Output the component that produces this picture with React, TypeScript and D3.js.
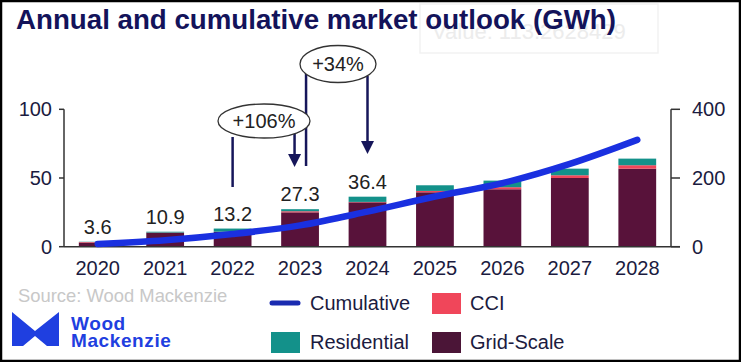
import React from 'react'
import * as d3 from 'd3'

const years = ['2020', '2021', '2022', '2023', '2024', '2025', '2026', '2027', '2028']
const gridScale = [3.0, 10.2, 10.7, 25.0, 32.3, 39.6, 41.8, 50.0, 56.8]
const cci = [0.4, 0.1, 0.2, 0.8, 0.3, 1.0, 1.5, 2.0, 2.5]
const residential = [0.2, 0.6, 2.3, 1.5, 3.8, 4.1, 4.8, 4.8, 4.8]
const cumulative = [8, 19, 37, 62, 102, 146, 185, 241, 311]
const totalLabels = ['3.6', '10.9', '13.2', '27.3', '36.4']
const leftTicks = [0, 50, 100]
const rightTicks = [0, 200, 400]

const W = 741
const H = 362
const FONT = '"Liberation Sans", Arial, sans-serif'
const NAVY = '#1b1b40'
const LINE_NAVY = '#16165a'

const App = () => {
  const x = d3.scaleBand<string>().domain(years).range([64, 671]).paddingInner(0.44).paddingOuter(0.22)
  const yL = d3.scaleLinear().domain([0, 100]).range([246.7, 109.3])
  const yR = d3.scaleLinear().domain([0, 400]).range([246.7, 109.3])

  const rows = years.map((year, i) => ({ year, grid: gridScale[i], cci: cci[i], res: residential[i] }))
  const stack = d3.stack<any>().keys(['grid', 'cci', 'res'])(rows)
  const colors: Record<string, string> = { grid: '#58123a', cci: '#f0465a', res: '#13918a' }

  const cx = (y: string) => (x(y) as number) + x.bandwidth() / 2

  const line = d3
    .line<number>()
    .x((_, i) => cx(years[i]))
    .y(d => yR(d))
    .curve(d3.curveMonotoneX)

  const totals = years.map((_, i) => gridScale[i] + cci[i] + residential[i])

  // annotation anchors
  const a2022 = cx('2022')
  const a2023 = cx('2023')
  const a2024 = cx('2024')

  const arrowHead = (ax: number, tip: number) =>
    `M${ax - 6.5},${tip - 13} L${ax + 6.5},${tip - 13} L${ax},${tip} Z`

  return (
    <svg width={W} height={H} style={{ position: 'absolute', left: 0, top: 0, background: '#fff' }} fontFamily={FONT}>
      <rect x={1} y={1} width={W - 2} height={H - 2} fill="#fff" stroke="#000" strokeWidth={2.5} />

      {/* faint tooltip artifact */}
      <rect x={420} y={4} width={238} height={49} fill="#fff" stroke="#f2f2f2" strokeWidth={1.5} />
      <text x={432} y={39} fontSize={22} fill="#ececec">Value: 113.2628429</text>

      <text x={16} y={28.5} fontSize={27.7} fontWeight="bold" fill="#13135a">
        Annual and cumulative market outlook (GWh)
      </text>

      {/* bars */}
      {stack.map(layer => (
        <g key={layer.key} fill={colors[layer.key]}>
          {layer.map((d, i) => (
            <rect key={i} x={x(years[i])} y={yL(d[1])} width={x.bandwidth()} height={yL(d[0]) - yL(d[1])} />
          ))}
        </g>
      ))}

      {/* axes */}
      <g stroke="#333" strokeWidth={1.5} fill="none">
        <line x1={64} x2={64} y1={yL(100)} y2={yL(0)} />
        <line x1={671} x2={671} y1={yR(400)} y2={yR(0)} />
        <line x1={64} x2={680} y1={yL(0)} y2={yL(0)} />
        {leftTicks.map(t => (
          <line key={t} x1={59} x2={64} y1={yL(t)} y2={yL(t)} />
        ))}
        {rightTicks.map(t => (
          <line key={t} x1={671} x2={680} y1={yR(t)} y2={yR(t)} />
        ))}
      </g>
      {leftTicks.map(t => (
        <text key={t} x={52} y={yL(t) + 7} fontSize={20} textAnchor="end" fill={NAVY}>{t}</text>
      ))}
      {rightTicks.map(t => (
        <text key={t} x={692} y={yR(t) + 7} fontSize={20} fill={NAVY}>{t}</text>
      ))}
      {years.map(y => (
        <text key={y} x={cx(y)} y={275} fontSize={20} textAnchor="middle" fill={NAVY}>{y}</text>
      ))}

      {/* total labels */}
      {totalLabels.map((l, i) => (
        <text key={l} x={cx(years[i])} y={yL(totals[i]) - 8} fontSize={20} textAnchor="middle" fill="#222">{l}</text>
      ))}

      {/* cumulative line */}
      <path d={line(cumulative) || ''} fill="none" stroke="#1a30e0" strokeWidth={6.5} strokeLinecap="round" />

      {/* annotations */}
      <g stroke={LINE_NAVY} strokeWidth={2.5} fill="none">
        <line x1={a2022} x2={a2022} y1={137} y2={187} />
        <line x1={a2023 - 5.5} x2={a2023 - 5.5} y1={134} y2={156} />
        <line x1={a2023 + 6} x2={a2023 + 6} y1={73} y2={166} />
        <line x1={a2024} x2={a2024} y1={76} y2={142} />
      </g>
      <path d={arrowHead(a2023 - 5.5, 167)} fill={LINE_NAVY} />
      <path d={arrowHead(a2024, 154)} fill={LINE_NAVY} />
      <ellipse cx={264} cy={121} rx={46} ry={17} fill="#fff" stroke="#333" strokeWidth={1.3} />
      <text x={264} y={128} fontSize={20} textAnchor="middle" fill="#222">+106%</text>
      <ellipse cx={338} cy={64} rx={38} ry={18.5} fill="#fff" stroke="#333" strokeWidth={1.3} />
      <text x={338} y={71} fontSize={20} textAnchor="middle" fill="#222">+34%</text>

      {/* source & logo */}
      <text x={18} y={302} fontSize={18.4} fill="#c8c8c8">Source: Wood Mackenzie</text>
      <path d="M12,346 L12,312 L35,331 L59,312 L59,346 L47,346 L35,336 L23,346 Z" fill="#1f3fe0" />
      <text x={71} y={330} fontSize={19} fontWeight={600} fill="#1f3fe0" letterSpacing={0.6}>Wood</text>
      <text x={71} y={347} fontSize={19} fontWeight={600} fill="#1f3fe0" letterSpacing={0.6}>Mackenzie</text>

      {/* legend */}
      <line x1={272} x2={298} y1={303} y2={303} stroke="#1a2bb0" strokeWidth={5} strokeLinecap="round" />
      <text x={310} y={310} fontSize={20} fill={NAVY}>Cumulative</text>
      <rect x={432} y={293} width={29} height={21} fill="#f0465a" />
      <text x={470} y={310} fontSize={20} fill={NAVY}>CCI</text>
      <rect x={271} y={332} width={29} height={21} fill="#13918a" />
      <text x={310} y={349} fontSize={20} fill={NAVY}>Residential</text>
      <rect x={432} y={332} width={29} height={21} fill="#4b1537" />
      <text x={470} y={349} fontSize={20} fill={NAVY}>Grid-Scale</text>
    </svg>
  )
}

export default App
